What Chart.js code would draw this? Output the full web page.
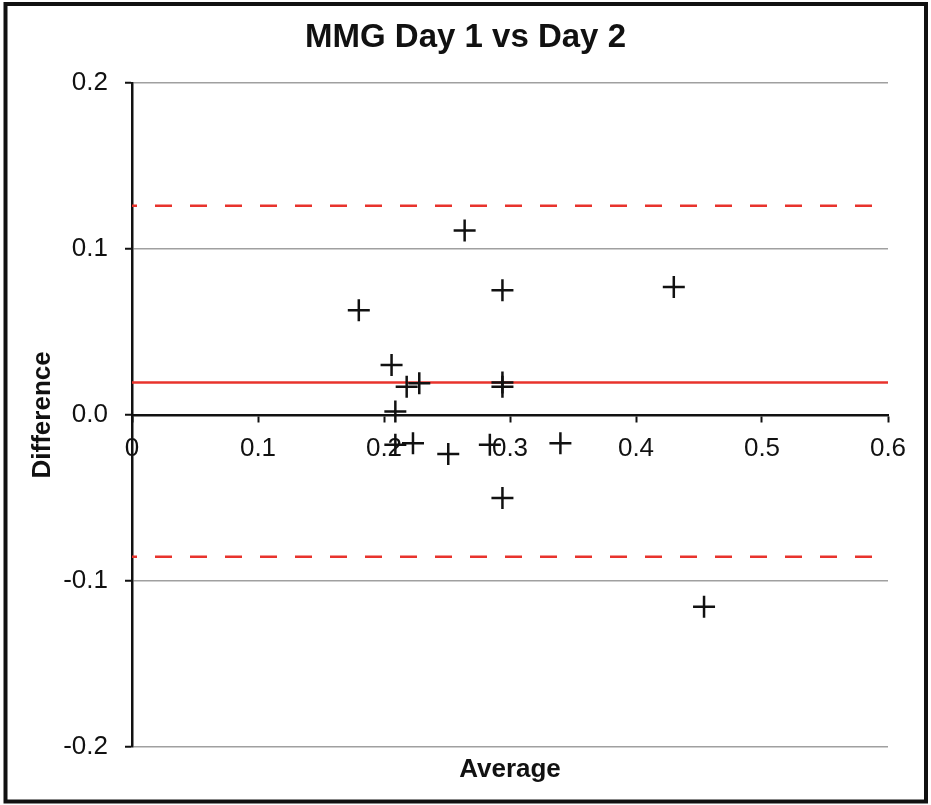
<!DOCTYPE html>
<html>
<head>
<meta charset="utf-8">
<script src="https://cdn.jsdelivr.net/npm/chart.js@4"></script>
<style>
  html, body { margin: 0; padding: 0; background: #fff; }
  canvas { display: block; }
</style>
</head>
<body>
<canvas id="mychart" width="931" height="805"></canvas>
<script>
// Bland-Altman data
const averages = [0.264, 0.294, 0.180, 0.430, 0.206, 0.218, 0.228, 0.294, 0.294,
  0.209, 0.209, 0.223, 0.251, 0.284, 0.294, 0.340, 0.454];
const differences = [0.111, 0.075, 0.063, 0.077, 0.030, 0.017, 0.019, 0.0195, 0.017,
  0.002, -0.018, -0.017, -0.0235, -0.018, -0.050, -0.017, -0.1155];
const meanDiff = 0.0195;
const upperLimit = 0.1259;
const lowerLimit = -0.0854;
const xRange = [0, 0.6];
const yRange = [-0.2, 0.2];

const FONT = "'Liberation Sans', Arial, sans-serif";
const RED = "#e8332c";

const points = averages.map((x, i) => ({ x: x, y: differences[i] }));
const hline = (v) => xRange.map((x) => ({ x: x, y: v }));

// frame around the whole picture
const frame = {
  id: "frame",
  beforeDraw(chart) {
    const c = chart.ctx;
    c.save();
    c.fillStyle = "#fff";
    c.fillRect(0, 0, chart.width, chart.height);
    c.restore();
  },
  afterDraw(chart) {
    const c = chart.ctx;
    c.save();
    c.strokeStyle = "#111";
    c.lineWidth = 4;
    c.strokeRect(5.5, 4, 920.5, 797.5);
    c.restore();
  },
};

const ctx = document.getElementById("mychart");

new Chart(ctx, {
  type: "scatter",
  data: {
    datasets: [
      {
        label: "Difference",
        data: points,
        pointStyle: "cross",
        pointRadius: 11,
        pointBorderWidth: 2.5,
        borderColor: "#111",
        backgroundColor: "#111",
        showLine: false,
      },
      {
        type: "line",
        label: "Mean",
        data: hline(meanDiff),
        borderColor: RED,
        borderWidth: 2.5,
        pointRadius: 0,
      },
      {
        type: "line",
        label: "Upper",
        data: hline(upperLimit),
        borderColor: RED,
        borderWidth: 2.5,
        borderDash: [17, 18],
        borderDashOffset: 12,
        pointRadius: 0,
      },
      {
        type: "line",
        label: "Lower",
        data: hline(lowerLimit),
        borderColor: RED,
        borderWidth: 2.5,
        borderDash: [17, 18],
        borderDashOffset: 12,
        pointRadius: 0,
      },
    ],
  },
  options: {
    responsive: false,
    animation: false,
    layout: { padding: 0 },
    plugins: {
      legend: { display: false },
      tooltip: { enabled: false },
      title: {
        display: true,
        text: "MMG Day 1 vs Day 2",
        color: "#111",
        font: { family: FONT, size: 33, weight: "bold", lineHeight: 1.2 },
        padding: { top: 18.2, bottom: 25 },
      },
    },
    scales: {
      x: {
        type: "linear",
        position: { y: 0 },
        min: xRange[0],
        max: xRange[1],
        ticks: {
          stepSize: 0.1,
          color: "#111",
          padding: 12,
          font: { family: FONT, size: 26 },
          callback: (v) => (Math.abs(v) < 1e-9 ? "0" : v.toFixed(1)),
        },
        grid: {
          drawOnChartArea: false,
          tickLength: 6,
          tickColor: "#111",
          tickWidth: 2,
        },
        border: { color: "#111", width: 2.5 },
      },
      x2: {
        type: "linear",
        position: "bottom",
        min: 0,
        max: 1,
        ticks: { display: false },
        grid: { display: false },
        border: { display: false },
        title: {
          display: true,
          text: "Average",
          color: "#111",
          font: { family: FONT, size: 26, weight: "bold", lineHeight: 1.2 },
          padding: { top: 0, bottom: 20 },
        },
        afterFit: (s) => { s.height = 58; },
      },
      y: {
        type: "linear",
        min: yRange[0],
        max: yRange[1],
        ticks: {
          stepSize: 0.1,
          color: "#111",
          padding: 17,
          font: { family: FONT, size: 26 },
          callback: (v) => (Math.abs(v) < 1e-9 ? "0.0" : v.toFixed(1)),
        },
        grid: {
          color: "#a0a0a0",
          lineWidth: 1.5,
          tickLength: 7,
          tickColor: "#111",
          tickWidth: 2,
        },
        border: { color: "#111", width: 2.5 },
        title: {
          display: true,
          text: "Difference",
          color: "#111",
          font: { family: FONT, size: 26, weight: "bold", lineHeight: 1.2 },
          padding: { top: 27, bottom: 0 },
        },
        afterFit: (s) => { s.width = 132; },
      },
      yRight: {
        type: "linear",
        position: "right",
        min: 0,
        max: 1,
        ticks: { display: false },
        grid: { display: false },
        border: { display: false },
        afterFit: (s) => { s.width = 43; },
      },
    },
  },
  plugins: [frame],
});
</script>
</body>
</html>
